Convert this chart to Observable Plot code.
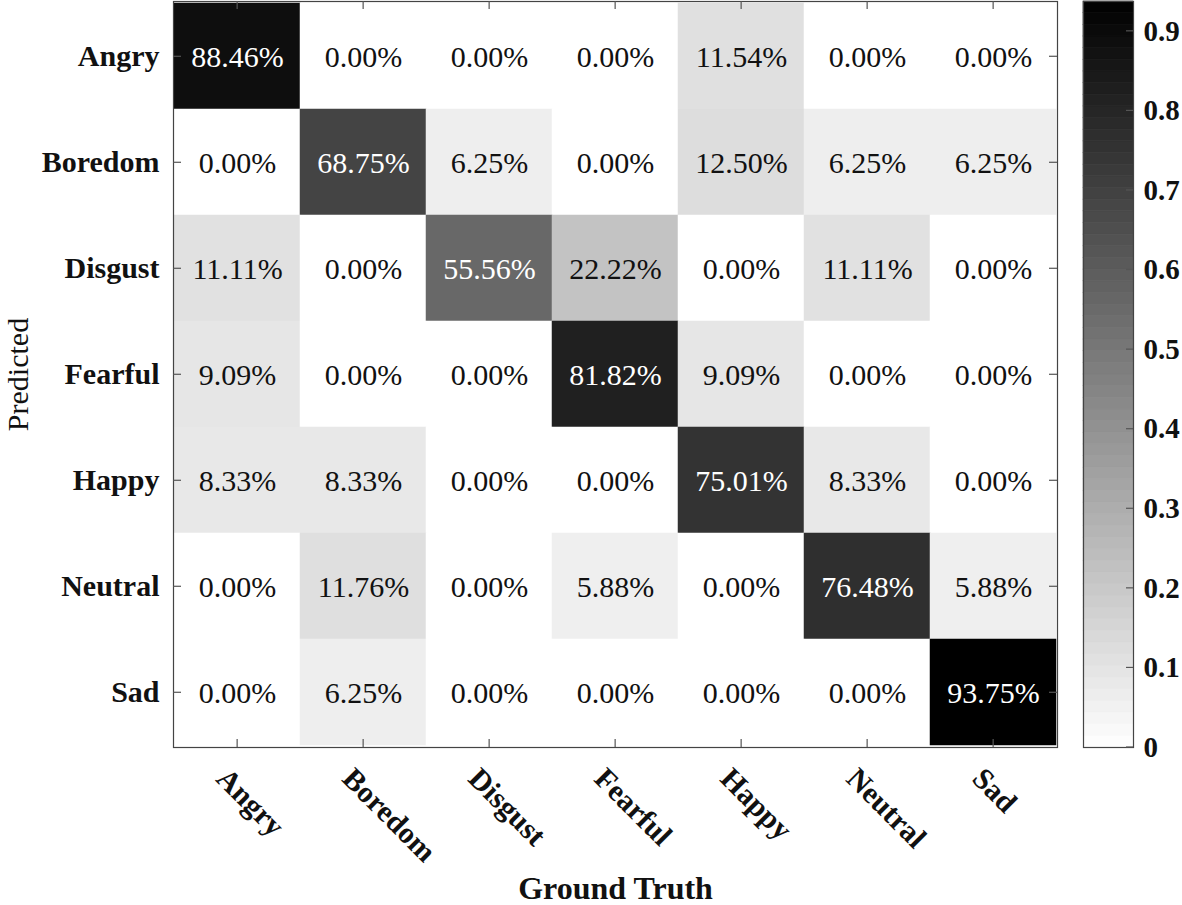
<!DOCTYPE html>
<html>
<head>
<meta charset="utf-8">
<script src="https://cdn.jsdelivr.net/npm/d3@7"></script>
<script src="https://cdn.jsdelivr.net/npm/@observablehq/plot@0.6"></script>
<style>
  html, body { margin: 0; padding: 0; background: #fff; }
  #wrap { position: relative; width: 1182px; height: 905px; overflow: hidden; background: #fff; }
  #main { position: absolute; left: 0; top: 0; }
  #bar { position: absolute; left: 1040px; top: 0; }
  svg { overflow: visible; }
</style>
</head>
<body>
<div id="wrap"><div id="main"></div><div id="bar"></div></div>
<script>
// Categories (rows = Predicted, columns = Ground Truth)
const categories = ["Angry", "Boredom", "Disgust", "Fearful", "Happy", "Neutral", "Sad"];

// Percent values, one array per predicted row
const rowAngry   = [88.46, 0.00, 0.00, 0.00, 11.54, 0.00, 0.00];
const rowBoredom = [0.00, 68.75, 6.25, 0.00, 12.50, 6.25, 6.25];
const rowDisgust = [11.11, 0.00, 55.56, 22.22, 0.00, 11.11, 0.00];
const rowFearful = [9.09, 0.00, 0.00, 81.82, 9.09, 0.00, 0.00];
const rowHappy   = [8.33, 8.33, 0.00, 0.00, 75.01, 8.33, 0.00];
const rowNeutral = [0.00, 11.76, 0.00, 5.88, 0.00, 76.48, 5.88];
const rowSad     = [0.00, 6.25, 0.00, 0.00, 0.00, 0.00, 93.75];

const colorbarTicks = [0, 0.1, 0.2, 0.3, 0.4, 0.5, 0.6, 0.7, 0.8, 0.9];
const colorMax = 0.9375;

const rows = [rowAngry, rowBoredom, rowDisgust, rowFearful, rowHappy, rowNeutral, rowSad];
const table = [];
rows.forEach((r, i) => r.forEach((v, j) => table.push({pred: categories[i], truth: categories[j], pct: v, value: v / 100})));

const FONT = "'Liberation Serif', 'Times New Roman', serif";
const colorOpts = {type: "linear", domain: [0, colorMax], range: ["#ffffff", "#000000"], interpolate: "rgb"};

// inner ticks on all four sides of the matrix frame
function innerTicks(index, scales, values, dims) {
  const L = dims.marginLeft, R = dims.width - dims.marginRight;
  const T = dims.marginTop, B = dims.height - dims.marginBottom;
  const bw = (R - L) / categories.length, bh = (B - T) / categories.length;
  const g = d3.create("svg:g").attr("stroke", "#555").attr("stroke-width", 1.2);
  for (const c of categories) {
    const cx = scales.x(c) + bw / 2;
    const cy = scales.y(c) + bh / 2;
    g.append("line").attr("x1", cx).attr("x2", cx).attr("y1", B).attr("y2", B - 8);
    g.append("line").attr("x1", cx).attr("x2", cx).attr("y1", T).attr("y2", T + 8);
    g.append("line").attr("x1", L).attr("x2", L + 8).attr("y1", cy).attr("y2", cy);
    g.append("line").attr("x1", R).attr("x2", R - 8).attr("y1", cy).attr("y2", cy);
  }
  return g.node();
}

const main = Plot.plot({
  width: 1070,
  height: 905,
  marginLeft: 173,
  marginRight: 13,
  marginTop: 1,
  marginBottom: 158,
  style: {fontFamily: FONT, fontSize: "30px", background: "transparent", color: "#111"},
  x: {domain: categories, padding: 0, label: null},
  y: {domain: categories, padding: 0, label: null},
  color: colorOpts,
  marks: [
    Plot.cell(table, {x: "truth", y: "pred", fill: "value", stroke: "value", strokeWidth: 0.5}),
    Plot.text(table, {
      x: "truth", y: "pred",
      text: d => d.pct.toFixed(2) + "%",
      fill: d => d.value > 0.5 ? "#ffffff" : "#111111",
      fontSize: 30, dy: 1
    }),
    Plot.frame({stroke: "#444", strokeWidth: 1.2}),
    innerTicks,
    Plot.axisY({tickSize: 0, tickPadding: 14, fontWeight: "bold", fontSize: 30, label: null}),
    Plot.axisX({tickSize: 0, tickRotate: 45, tickPadding: 26, dx: -16, fontWeight: "bold", fontSize: 30, label: null}),
    Plot.text(["Predicted"], {frameAnchor: "left", textAnchor: "middle", dx: -155, rotate: -90, fontSize: 30, fill: "#111", text: d => d}),
    Plot.text(["Ground Truth"], {frameAnchor: "bottom", textAnchor: "middle", dy: 151, fontSize: 32, fontWeight: "bold", fill: "#111", text: d => d})
  ]
});
document.getElementById("main").appendChild(main);

// Colorbar
const steps = 64;
const ramp = d3.range(steps).map(i => ({y1: i * colorMax / steps, y2: (i + 1) * colorMax / steps, v: (i + 0.5) * colorMax / steps}));

function barTicks(index, scales, values, dims) {
  const R = dims.width - dims.marginRight;
  const g = d3.create("svg:g").attr("stroke", "#555").attr("stroke-width", 1.2);
  for (const t of colorbarTicks) {
    const y = scales.y(t);
    g.append("line").attr("x1", R).attr("x2", R - 7).attr("y1", y).attr("y2", y);
  }
  return g.node();
}

const bar = Plot.plot({
  width: 142,
  height: 905,
  marginLeft: 43,
  marginRight: 49,
  marginTop: 1,
  marginBottom: 158,
  style: {fontFamily: FONT, fontSize: "29px", background: "transparent", color: "#111"},
  y: {domain: [0, colorMax], label: null},
  color: colorOpts,
  marks: [
    Plot.rect(ramp, {y1: "y1", y2: "y2", fill: "v", stroke: "v", strokeWidth: 0.6}),
    Plot.frame({stroke: "#444", strokeWidth: 1.2}),
    barTicks,
    Plot.axisY(colorbarTicks, {anchor: "right", tickSize: 0, tickPadding: 10, fontWeight: "bold", fontSize: 29, label: null, tickFormat: d => String(d)})
  ]
});
document.getElementById("bar").appendChild(bar);
</script>
</body>
</html>
